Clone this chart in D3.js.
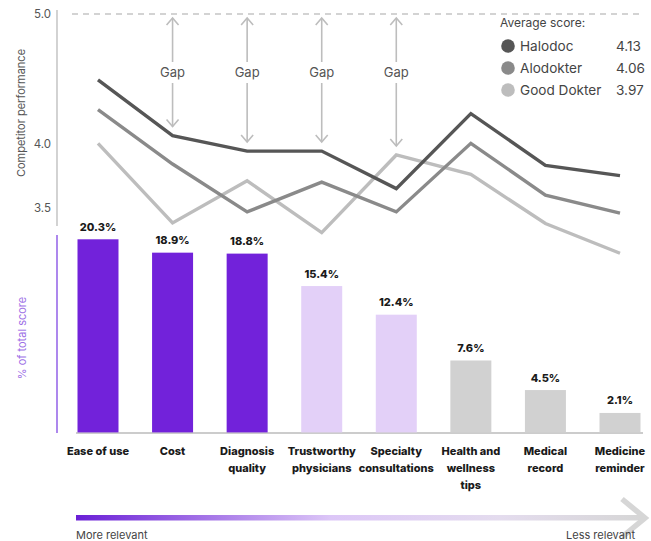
<!DOCTYPE html>
<html>
<head>
<meta charset="utf-8">
<script src="https://cdn.jsdelivr.net/npm/d3@7"></script>
<style>
  html, body { margin: 0; padding: 0; background: #ffffff; }
  svg { display: block; }
</style>
</head>
<body>
<svg id="chart" width="651" height="541"></svg>
<script>
// ---------- data ----------
const categories = ["Ease of use", "Cost", "Diagnosis quality", "Trustworthy physicians",
  "Specialty consultations", "Health and wellness tips", "Medical record", "Medicine reminder"];
const categoryLines = [["Ease of use"], ["Cost"], ["Diagnosis", "quality"], ["Trustworthy", "physicians"],
  ["Specialty", "consultations"], ["Health and", "wellness", "tips"], ["Medical", "record"], ["Medicine", "reminder"]];
const shareOfScore = [20.3, 18.9, 18.8, 15.4, 12.4, 7.6, 4.5, 2.1];
const relevanceTier = ["high", "high", "high", "mid", "mid", "low", "low", "low"];

const seriesNames = ["Halodoc", "Alodokter", "Good Dokter"];
const averageScores = [4.13, 4.06, 3.97];
const halodoc   = [4.49, 4.06, 3.94, 3.94, 3.65, 4.23, 3.83, 3.75];
const alodokter = [4.26, 3.84, 3.47, 3.70, 3.47, 4.00, 3.60, 3.46];
const goodDokter = [4.00, 3.385, 3.71, 3.31, 3.91, 3.76, 3.38, 3.15];
const perfTicks = [3.5, 4.0, 5.0];
const gapCategories = ["Cost", "Diagnosis quality", "Trustworthy physicians", "Specialty consultations"];

// ---------- styles ----------
const seriesColors = ["#565656", "#8a8a8a", "#bdbdbd"];
const tierColors = { high: "#7222da", mid: "#e3d0f8", low: "#d1d1d1" };
const FONT = "Inter, 'Noto Sans', sans-serif";

const svg = d3.select("#chart");

// ---------- scales ----------
const x = d3.scalePoint().domain(categories).range([98, 620]);
const yPerf = d3.scaleLinear().domain([3.5, 5.0]).range([208, 14]);
const yBar = d3.scaleLinear().domain([0, 20.3]).range([433, 239.3]);
const barW = 41;

// ---------- left axis lines ----------
svg.append("line").attr("x1", 57).attr("x2", 57).attr("y1", 10).attr("y2", 226)
  .attr("stroke", "#b5b5b5").attr("stroke-width", 1.2);
svg.append("line").attr("x1", 57).attr("x2", 57).attr("y1", 235).attr("y2", 433)
  .attr("stroke", "#8a55e6").attr("stroke-width", 1.4);

// perf tick labels
const axisL = d3.axisLeft(yPerf).tickValues(perfTicks).tickFormat(d3.format(".1f")).tickSize(0).tickPadding(0);
const gAxis = svg.append("g").attr("transform", "translate(51,0)").call(axisL);
gAxis.select(".domain").remove();
gAxis.selectAll("text").attr("font-family", FONT).attr("font-size", 11.5).attr("fill", "#555");

svg.append("text").attr("transform", "translate(25,113) rotate(-90)")
  .attr("text-anchor", "middle").attr("font-family", FONT).attr("font-size", 11).attr("fill", "#555")
  .text("Competitor performance");
svg.append("text").attr("transform", "translate(26,338) rotate(-90)")
  .attr("text-anchor", "middle").attr("font-family", FONT).attr("font-size", 11).attr("fill", "#9d6fe6")
  .text("% of total score");

// dashed 5.0 line
svg.append("line").attr("x1", 72).attr("x2", 642).attr("y1", yPerf(5)).attr("y2", yPerf(5))
  .attr("stroke", "#a8a8a8").attr("stroke-width", 1.2).attr("stroke-dasharray", "6,5");

// ---------- gap arrows ----------
const allSeries = [halodoc, alodokter, goodDokter];
const arrowColor = "#bdbdbd";
gapCategories.forEach(cat => {
  const i = categories.indexOf(cat);
  const cx = x(cat);
  const topY = yPerf(5) + 4;
  const maxV = d3.max(allSeries, s => s[i]);
  const botY = yPerf(maxV) - 9;
  const g = svg.append("g").attr("stroke", arrowColor).attr("stroke-width", 1.6).attr("fill", "none");
  g.append("line").attr("x1", cx).attr("x2", cx).attr("y1", topY).attr("y2", 62);
  g.append("line").attr("x1", cx).attr("x2", cx).attr("y1", 83).attr("y2", botY);
  g.append("path").attr("d", `M${cx - 6},${topY + 7} L${cx},${topY} L${cx + 6},${topY + 7}`);
  g.append("path").attr("d", `M${cx - 6},${botY - 7} L${cx},${botY} L${cx + 6},${botY - 7}`);
  svg.append("text").attr("x", cx).attr("y", 77).attr("text-anchor", "middle")
    .attr("font-family", FONT).attr("font-size", 13).attr("fill", "#555").text("Gap");
});

// ---------- lines ----------
const lineGen = d3.line().x((d, i) => x(categories[i])).y(d => yPerf(d));
[goodDokter, alodokter, halodoc].forEach((s, k) => {
  const idx = 2 - k;
  svg.append("path").datum(s).attr("d", lineGen).attr("fill", "none")
    .attr("stroke", seriesColors[idx]).attr("stroke-width", 3.4).attr("stroke-linejoin", "miter");
});

// ---------- legend ----------
svg.append("text").attr("x", 500).attr("y", 27).attr("font-family", FONT).attr("font-size", 12)
  .attr("fill", "#444").text("Average score:");
seriesNames.forEach((n, i) => {
  const cy = 46 + i * 22;
  svg.append("circle").attr("cx", 508).attr("cy", cy).attr("r", 6.8).attr("fill", seriesColors[i]);
  svg.append("text").attr("x", 520).attr("y", cy + 4.8).attr("font-family", FONT).attr("font-size", 13.6)
    .attr("fill", "#444").text(n);
  svg.append("text").attr("x", 616).attr("y", cy + 4.8).attr("font-family", FONT).attr("font-size", 13.6)
    .attr("fill", "#444").text(averageScores[i].toFixed(2));
});

// ---------- bars ----------
svg.append("line").attr("x1", 76).attr("x2", 643).attr("y1", 433).attr("y2", 433)
  .attr("stroke", "#9a9a9a").attr("stroke-width", 1.2);
svg.selectAll("rect.bar").data(shareOfScore).enter().append("rect").attr("class", "bar")
  .attr("x", (d, i) => x(categories[i]) - barW / 2)
  .attr("y", d => yBar(d))
  .attr("width", barW)
  .attr("height", d => yBar(0) - yBar(d) - 0.6)
  .attr("fill", (d, i) => tierColors[relevanceTier[i]]);
svg.selectAll("text.val").data(shareOfScore).enter().append("text").attr("class", "val")
  .attr("x", (d, i) => x(categories[i]))
  .attr("y", d => yBar(d) - 8.5)
  .attr("text-anchor", "middle").attr("font-family", FONT).attr("font-weight", 800)
  .attr("font-size", 11).attr("fill", "#1a1a1a")
  .text(d => d.toFixed(1) + "%");

// category labels
categories.forEach((c, i) => {
  const t = svg.append("text").attr("x", x(c)).attr("y", 455).attr("text-anchor", "middle")
    .attr("font-family", FONT).attr("font-weight", 800).attr("font-size", 11).attr("fill", "#1a1a1a");
  categoryLines[i].forEach((ln, j) => {
    t.append("tspan").attr("x", x(c)).attr("dy", j === 0 ? 0 : 17).text(ln);
  });
});

// ---------- relevance arrow ----------
const defs = svg.append("defs");
const grad = defs.append("linearGradient").attr("id", "relGrad").attr("x1", "0%").attr("x2", "100%");
grad.append("stop").attr("offset", "0%").attr("stop-color", "#6a1fd6");
grad.append("stop").attr("offset", "45%").attr("stop-color", "#dcc6f7");
grad.append("stop").attr("offset", "75%").attr("stop-color", "#e4dcee");
grad.append("stop").attr("offset", "100%").attr("stop-color", "#d6d6d6");
svg.append("rect").attr("x", 76).attr("y", 515).attr("width", 566).attr("height", 5.5).attr("fill", "url(#relGrad)");
svg.append("path").attr("d", "M622,499 L645,518 L622,537").attr("fill", "none")
  .attr("stroke", "#d6d6d6").attr("stroke-width", 5.5).attr("stroke-linejoin", "miter");

svg.append("text").attr("x", 76).attr("y", 539).attr("font-family", FONT).attr("font-size", 11)
  .attr("fill", "#444").text("More relevant");
svg.append("text").attr("x", 635).attr("y", 539).attr("text-anchor", "end").attr("font-family", FONT)
  .attr("font-size", 11).attr("fill", "#444").text("Less relevant");
</script>
</body>
</html>
